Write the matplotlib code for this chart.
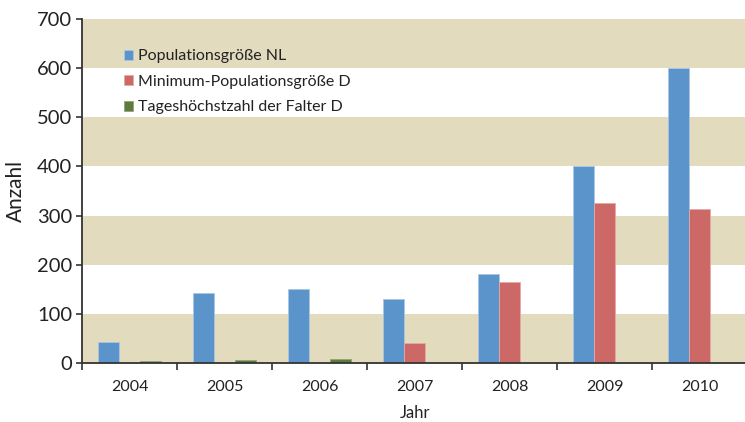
import matplotlib
matplotlib.use("Agg")
import matplotlib.pyplot as plt
import numpy as np

plt.rcParams['font.family'] = ['Lato', 'DejaVu Sans']

years = ["2004", "2005", "2006", "2007", "2008", "2009", "2010"]
pop_nl = [43, 143, 151, 130, 180, 400, 600]
min_pop_d = [0, 0, 0, 40, 164, 326, 313]
max_falter_d = [4, 6, 8, 0, 0, 0, 0]
series_names = ["Populationsgröße NL", "Minimum-Populationsgröße D", "Tageshöchstzahl der Falter D"]
colors = ["#5B93CB", "#CC6866", "#5E7A3F"]
edges = ["#A9C6E6", "#E4A9A7", "#8FA575"]
y_ticks = [0, 100, 200, 300, 400, 500, 600, 700]

fig = plt.figure(figsize=(7.45, 4.22), dpi=100)
ax = fig.add_axes([0.110, 0.140, 0.893, 0.815])

# alternating background bands
for lo in range(0, 700, 200):
    ax.axhspan(lo, lo + 100, color="#E2DBBE", zorder=0, lw=0)

x = np.arange(len(years))
w = 0.224
for i, (vals, name) in enumerate(zip([pop_nl, min_pop_d, max_falter_d], series_names)):
    ax.bar(x + (i - 1) * w, vals, width=w, color=colors[i], edgecolor=edges[i],
           linewidth=0.6, label=name, zorder=2)

ax.set_xlim(-0.5, len(years) - 0.5)
ax.set_ylim(0, 700)
ax.set_yticks(y_ticks)
ax.set_yticklabels([str(v) for v in y_ticks], fontsize=14.5, color="#222222")
ax.set_xticks(x)
ax.set_xticklabels(years, fontsize=11.5, color="#222222")
ax.set_xticks(np.arange(-0.5, len(years), 1.0), minor=True)
ax.tick_params(axis="x", which="major", length=0, pad=12)
ax.tick_params(axis="x", which="minor", length=5, width=1.2, color="#333333")
ax.tick_params(axis="y", length=4, width=1.2, color="#333333", pad=3)

for s in ["top", "right"]:
    ax.spines[s].set_visible(False)
for s in ["left", "bottom"]:
    ax.spines[s].set_color("#333333")
    ax.spines[s].set_linewidth(1.3)
    ax.spines[s].set_zorder(3)

ax.set_ylabel("Anzahl", fontsize=15, color="#222222", labelpad=8)
ax.set_xlabel("Jahr", fontsize=12, color="#222222", labelpad=8)

leg = ax.legend(loc="upper left", bbox_to_anchor=(0.053, 0.93), frameon=False,
                fontsize=11.5, handlelength=0.6, handleheight=0.6, handletextpad=0.3,
                labelspacing=0.72, borderaxespad=0)
for t in leg.get_texts():
    t.set_color("#222222")

fig.savefig("out.png", dpi=100)
